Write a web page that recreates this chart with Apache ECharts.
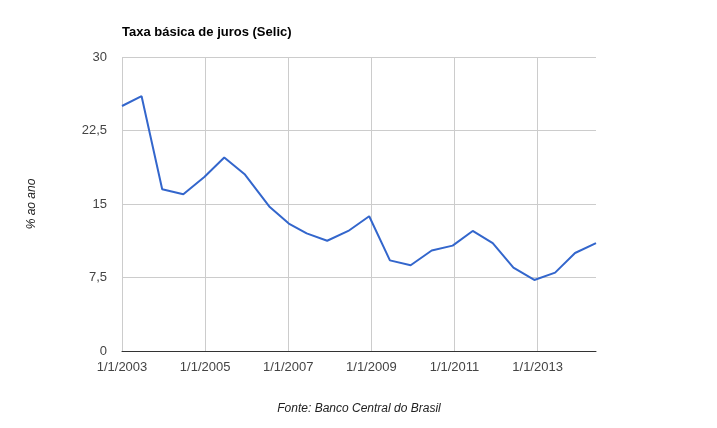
<!DOCTYPE html>
<html>
<head>
	<meta charset="utf-8"/>
	<title>Selic</title>
	<style>
		* { margin: 0; padding: 0; }
		body { background: #fff; }
		#chart { width: 717px; height: 428px; }
	</style>
</head>
<body>
	<div id="chart"></div>
	<script src="https://cdn.jsdelivr.net/npm/echarts@6/dist/echarts.min.js"></script>
	<script>
		// dados
		var datas = ['2003-01-01', '2003-06-22', '2003-12-20', '2004-06-23', '2004-12-25', '2005-06-18',
			'2005-12-17', '2006-07-18', '2007-01-06', '2007-06-12', '2007-12-09', '2008-06-12',
			'2008-12-13', '2009-06-13', '2009-12-12', '2010-06-15', '2010-12-16', '2011-06-10',
			'2011-12-03', '2012-06-02', '2012-12-03', '2013-06-04', '2013-11-26', '2014-05-29'];
		var selic = [25, 26, 16.5, 16, 17.75, 19.75, 18, 14.75, 13, 12, 11.25, 12.25,
			13.75, 9.25, 8.75, 10.25, 10.75, 12.25, 11, 8.5, 7.25, 8, 10, 11];
		var yTicks = [0, 7.5, 15, 22.5, 30];

		// data -> ano fracionário
		function anoFrac(s) {
			var p = s.split('-');
			var y = +p[0];
			var ini = Date.UTC(y, 0, 1), fim = Date.UTC(y + 1, 0, 1);
			return y + (Date.UTC(y, +p[1] - 1, +p[2]) - ini) / (fim - ini);
		}

		var pontos = datas.map(function (d, i) { return [anoFrac(d), selic[i]]; });
		var xMax = pontos[pontos.length - 1][0];

		var fonte = 'Liberation Sans, Arial, sans-serif';
		var myChart = echarts.init(document.getElementById('chart'));

		var option = {
			animation: false,
			textStyle: { fontFamily: fonte },
			title: {
				text: 'Taxa básica de juros (Selic)',
				left: 122,
				top: 26,
				padding: 0,
				textStyle: { fontSize: 13, fontWeight: 'bold', color: '#000', fontFamily: fonte }
			},
			grid: { left: 122, right: 121, top: 57, bottom: 77 },
			xAxis: {
				type: 'value',
				min: 2003,
				max: xMax,
				interval: 2,
				name: 'Fonte: Banco Central do Brasil',
				nameLocation: 'middle',
				nameGap: 52,
				nameTextStyle: { fontStyle: 'italic', fontSize: 12, color: '#222', fontFamily: fonte },
				axisLine: { lineStyle: { color: '#333', width: 1 } },
				axisTick: { show: false },
				axisLabel: {
					color: '#444',
					fontSize: 13,
					margin: 10,
					showMaxLabel: false,
					formatter: function (v) {
						return Math.abs(v - Math.round(v)) < 1e-6 ? '1/1/' + Math.round(v) : '';
					}
				},
				splitLine: {
					show: true,
					lineStyle: { color: ['#ccc', '#ccc', '#ccc', '#ccc', '#ccc', '#ccc', 'rgba(0,0,0,0)'], width: 1 }
				}
			},
			yAxis: {
				type: 'value',
				min: yTicks[0],
				max: yTicks[yTicks.length - 1],
				interval: 7.5,
				name: '% ao ano',
				nameLocation: 'middle',
				nameGap: 84,
				nameTextStyle: { fontStyle: 'italic', fontSize: 12, color: '#222', fontFamily: fonte },
				axisLine: { show: false },
				axisTick: { show: false },
				axisLabel: {
					color: '#444',
					fontSize: 13,
					margin: 15,
					formatter: function (v) { return String(v).replace('.', ','); }
				},
				splitLine: { lineStyle: { color: '#ccc', width: 1 } }
			},
			series: [
				{
					name: 'Selic',
					type: 'line',
					data: pontos,
					showSymbol: false,
					symbol: 'none',
					lineStyle: { color: '#3366cc', width: 2 },
					itemStyle: { color: '#3366cc' }
				}
			]
		};

		myChart.setOption(option);
	</script>
</body>
</html>
